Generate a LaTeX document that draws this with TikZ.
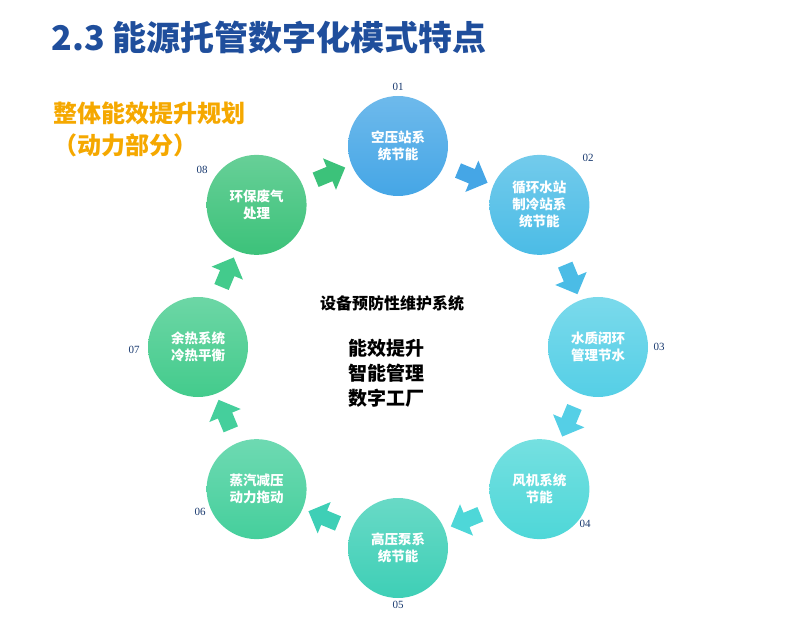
\documentclass[tikz,border=0pt]{standalone}
\usepackage{fontspec}
\setmainfont{Noto Sans CJK SC}
\newfontfamily\numfont{Liberation Serif}
\usetikzlibrary{shapes.arrows}
\definecolor{titleblue}{HTML}{1F4E9C}
\definecolor{planorange}{HTML}{F5A800}
\definecolor{cA}{HTML}{45A6E6}
\definecolor{cB}{HTML}{4BBCE6}
\definecolor{cC}{HTML}{55CFE6}
\definecolor{cD}{HTML}{4ED7D8}
\definecolor{cE}{HTML}{3ECFB6}
\definecolor{cF}{HTML}{45CF9C}
\definecolor{cG}{HTML}{43CB8C}
\definecolor{cH}{HTML}{3CC27A}
\begin{document}
\begin{tikzpicture}[x=1pt,y=1pt,
  stage/.style={circle,minimum size=100pt,inner sep=0pt,align=center,text=white,
    font=\fontsize{13.5}{17}\selectfont\bfseries,top color=#1!78!white,bottom color=#1},
  flow/.style={single arrow,minimum height=32pt,minimum width=34pt,
    single arrow head extend=5pt,inner sep=4pt,fill=#1},
  num/.style={font=\numfont\fontsize{11}{11}\selectfont,text=titleblue!70!black}]
\useasboundingbox (0,0) rectangle (800,619);

% title and plan label
\node[anchor=west,text=titleblue,font=\fontsize{34}{36}\selectfont\bfseries] (title) at (48,581) {2.3 能源托管数字化模式特点};
\node[anchor=west,text=planorange,font=\fontsize{24}{26}\selectfont\bfseries] (plan) at (50,506) {整体能效提升规划};
\node[anchor=west,text=planorange,font=\fontsize{24}{26}\selectfont\bfseries] (part) at (50,474) {（动力部分）};

% ring of stages
\foreach \k/\col/\txt in {0/cA/空压站系\\统节能, 1/cB/循环水站\\制冷站系\\统节能, 2/cC/水质闭环\\管理节水,
    3/cD/风机系统\\节能, 4/cE/高压泵系\\统节能, 5/cF/蒸汽减压\\动力拖动, 6/cG/余热系统\\冷热平衡, 7/cH/环保废气\\处理} {
  \node[stage=\col] (s\k) at ({398+200*cos(90-45*\k)},{272+201*sin(90-45*\k)}) {\txt};
}

% arrows between stages
\foreach \k/\col in {0/cA, 1/cB, 2/cC, 3/cD, 4/cE, 5/cF, 6/cG, 7/cH} {
  \node[flow=\col,rotate={-45*\k-22.5}] (f\k) at ({398+186*cos(67.5-45*\k)},{272+186*sin(67.5-45*\k)}) {};
}

% stage numbers
\node[num] (n1) at (398,532) {01};
\node[num] (n2) at (588,461) {02};
\node[num] (n3) at (659,272) {03};
\node[num] (n4) at (585,95) {04};
\node[num] (n5) at (398,14) {05};
\node[num] (n6) at (200,107) {06};
\node[num] (n7) at (134,269) {07};
\node[num] (n8) at (202,449) {08};

% centre
\node[font=\fontsize{16}{18}\selectfont\bfseries] (core) at (392,316) {设备预防性维护系统};
\node[align=center,font=\fontsize{19}{25}\selectfont\bfseries] (aims) at (386,246) {能效提升\\智能管理\\数字工厂};
\end{tikzpicture}
\end{document}
